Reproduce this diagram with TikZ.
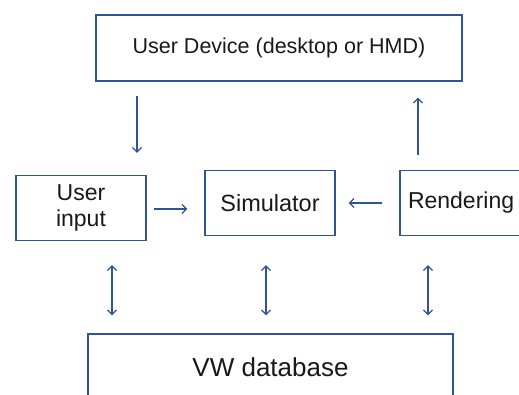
\documentclass[tikz,border=0pt]{standalone}
\usepackage{fontspec}
\setmainfont{Liberation Sans}
\usetikzlibrary{arrows.meta}
\definecolor{boxblue}{RGB}{47,84,150}

\begin{document}
\begin{tikzpicture}[x=1pt, y=-1pt,
    blk/.style={draw=boxblue, line width=1.4pt, fill=white, inner sep=0pt,
        font=\fontsize{21.5}{25}\selectfont, text=black!90, align=center},
    arr/.style={draw=boxblue, line width=1.2pt, -{Straight Barb[length=4.5pt,width=9pt]}},
    dbl/.style={arr, {Straight Barb[length=4.5pt,width=9pt]}-{Straight Barb[length=4.5pt,width=9pt]}}]
    \useasboundingbox (0,0) rectangle (519,394);
    \node[blk, minimum width=366pt, minimum height=66pt] (dev) at (279,48) {User Device (desktop or HMD)};
    \node[blk, minimum width=130pt, minimum height=65pt, font=\fontsize{23}{26}\selectfont] (inp) at (81,208) {User\\input};
    \node[blk, minimum width=130pt, minimum height=65pt, font=\fontsize{23.5}{26}\selectfont] (sim) at (270,203) {Simulator};
    \node[blk, minimum width=134pt, minimum height=65pt, font=\fontsize{23}{26}\selectfont,
        text width=118pt, align=left] (ren) at (467,203) {Rendering};
    \node[blk, minimum width=365pt, minimum height=66pt, font=\fontsize{26}{30}\selectfont] (db) at (270.5,367) {VW database};
    \draw[arr, shorten <=14pt, shorten >=22pt] (137,0 |- dev.south) -- (137,0 |- inp.north);
    \draw[arr, shorten <=15pt, shorten >=16pt] (418,0 |- ren.north) -- (418,0 |- dev.south);
    \draw[arr, shorten <=7pt, shorten >=17pt] (inp.east |- 0,209) -- (sim.west |- 0,209);
    \draw[arr, shorten <=17pt, shorten >=13pt] (ren.west) -- (sim.east);
    \draw[dbl, shorten <=24pt, shorten >=18pt] (112,0 |- inp.south) -- (112,0 |- db.north);
    \draw[dbl, shorten <=29pt, shorten >=18pt] (266,0 |- sim.south) -- (266,0 |- db.north);
    \draw[dbl, shorten <=29pt, shorten >=18pt] (428,0 |- ren.south) -- (428,0 |- db.north);
\end{tikzpicture}
\end{document}
